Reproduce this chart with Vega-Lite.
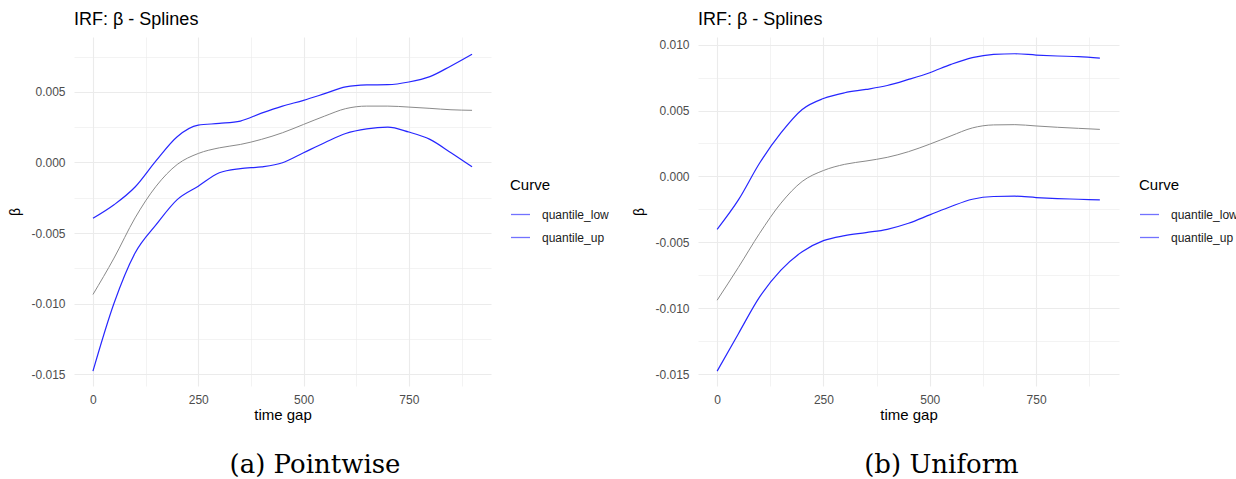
{
  "$schema": "https://vega.github.io/schema/vega-lite/v6.json",
  "background": "white",
  "padding": {"left": 8, "top": 11, "right": 0, "bottom": 0},
  "config": {
    "view": {"stroke": null},
    "font": "Liberation Sans",
    "axis": {"domain": false, "ticks": false, "tickSize": 0, "gridColor": "#ebebeb", "labelColor": "#4d4d4d", "labelFontSize": 12, "labelFont": "Liberation Sans", "titleFont": "Liberation Sans", "titleColor": "#000000", "titleFontWeight": "normal", "labelFlush": false, "labelOverlap": false},
    "legend": {"padding": 0}
  },
  "datasets": {
    "curves": [
      {"panel":"a","curve":"quantile_up","t":0,"beta":-0.00396},
      {"panel":"a","curve":"quantile_up","t":50,"beta":-0.0030},
      {"panel":"a","curve":"quantile_up","t":100,"beta":-0.00174},
      {"panel":"a","curve":"quantile_up","t":150,"beta":0.00013},
      {"panel":"a","curve":"quantile_up","t":200,"beta":0.00183},
      {"panel":"a","curve":"quantile_up","t":250,"beta":0.00265},
      {"panel":"a","curve":"quantile_up","t":300,"beta":0.00277},
      {"panel":"a","curve":"quantile_up","t":350,"beta":0.00294},
      {"panel":"a","curve":"quantile_up","t":400,"beta":0.0035},
      {"panel":"a","curve":"quantile_up","t":450,"beta":0.004},
      {"panel":"a","curve":"quantile_up","t":500,"beta":0.00441},
      {"panel":"a","curve":"quantile_up","t":550,"beta":0.00488},
      {"panel":"a","curve":"quantile_up","t":600,"beta":0.00536},
      {"panel":"a","curve":"quantile_up","t":650,"beta":0.0055},
      {"panel":"a","curve":"quantile_up","t":700,"beta":0.00552},
      {"panel":"a","curve":"quantile_up","t":750,"beta":0.00571},
      {"panel":"a","curve":"quantile_up","t":800,"beta":0.00609},
      {"panel":"a","curve":"quantile_up","t":850,"beta":0.00685},
      {"panel":"a","curve":"quantile_up","t":900,"beta":0.00768},
      {"panel":"a","curve":"estimate","t":0,"beta":-0.00936},
      {"panel":"a","curve":"estimate","t":50,"beta":-0.00678},
      {"panel":"a","curve":"estimate","t":100,"beta":-0.00393},
      {"panel":"a","curve":"estimate","t":150,"beta":-0.00168},
      {"panel":"a","curve":"estimate","t":200,"beta":-0.00014},
      {"panel":"a","curve":"estimate","t":250,"beta":0.00064},
      {"panel":"a","curve":"estimate","t":300,"beta":0.00104},
      {"panel":"a","curve":"estimate","t":350,"beta":0.00128},
      {"panel":"a","curve":"estimate","t":400,"beta":0.00164},
      {"panel":"a","curve":"estimate","t":450,"beta":0.00211},
      {"panel":"a","curve":"estimate","t":500,"beta":0.0027},
      {"panel":"a","curve":"estimate","t":550,"beta":0.00329},
      {"panel":"a","curve":"estimate","t":600,"beta":0.00382},
      {"panel":"a","curve":"estimate","t":650,"beta":0.004},
      {"panel":"a","curve":"estimate","t":700,"beta":0.004},
      {"panel":"a","curve":"estimate","t":750,"beta":0.00393},
      {"panel":"a","curve":"estimate","t":800,"beta":0.00384},
      {"panel":"a","curve":"estimate","t":850,"beta":0.00374},
      {"panel":"a","curve":"estimate","t":900,"beta":0.0037},
      {"panel":"a","curve":"quantile_low","t":0,"beta":-0.01479},
      {"panel":"a","curve":"quantile_low","t":50,"beta":-0.00998},
      {"panel":"a","curve":"quantile_low","t":100,"beta":-0.00642},
      {"panel":"a","curve":"quantile_low","t":150,"beta":-0.00441},
      {"panel":"a","curve":"quantile_low","t":200,"beta":-0.00263},
      {"panel":"a","curve":"quantile_low","t":250,"beta":-0.00168},
      {"panel":"a","curve":"quantile_low","t":300,"beta":-0.00073},
      {"panel":"a","curve":"quantile_low","t":350,"beta":-0.00043},
      {"panel":"a","curve":"quantile_low","t":400,"beta":-0.00031},
      {"panel":"a","curve":"quantile_low","t":450,"beta":-0.00002},
      {"panel":"a","curve":"quantile_low","t":500,"beta":0.00069},
      {"panel":"a","curve":"quantile_low","t":550,"beta":0.0014},
      {"panel":"a","curve":"quantile_low","t":600,"beta":0.00206},
      {"panel":"a","curve":"quantile_low","t":650,"beta":0.00239},
      {"panel":"a","curve":"quantile_low","t":700,"beta":0.00251},
      {"panel":"a","curve":"quantile_low","t":750,"beta":0.00216},
      {"panel":"a","curve":"quantile_low","t":800,"beta":0.00164},
      {"panel":"a","curve":"quantile_low","t":850,"beta":0.00069},
      {"panel":"a","curve":"quantile_low","t":900,"beta":-0.00031},
      {"panel":"b","curve":"quantile_up","t":0,"beta":-0.00401},
      {"panel":"b","curve":"quantile_up","t":50,"beta":-0.00178},
      {"panel":"b","curve":"quantile_up","t":100,"beta":0.00102},
      {"panel":"b","curve":"quantile_up","t":150,"beta":0.0033},
      {"panel":"b","curve":"quantile_up","t":200,"beta":0.00508},
      {"panel":"b","curve":"quantile_up","t":250,"beta":0.00591},
      {"panel":"b","curve":"quantile_up","t":300,"beta":0.00635},
      {"panel":"b","curve":"quantile_up","t":350,"beta":0.0066},
      {"panel":"b","curve":"quantile_up","t":400,"beta":0.0069},
      {"panel":"b","curve":"quantile_up","t":450,"beta":0.00736},
      {"panel":"b","curve":"quantile_up","t":500,"beta":0.00787},
      {"panel":"b","curve":"quantile_up","t":550,"beta":0.0085},
      {"panel":"b","curve":"quantile_up","t":600,"beta":0.00901},
      {"panel":"b","curve":"quantile_up","t":650,"beta":0.00926},
      {"panel":"b","curve":"quantile_up","t":700,"beta":0.00931},
      {"panel":"b","curve":"quantile_up","t":750,"beta":0.00921},
      {"panel":"b","curve":"quantile_up","t":800,"beta":0.00914},
      {"panel":"b","curve":"quantile_up","t":850,"beta":0.00909},
      {"panel":"b","curve":"quantile_up","t":900,"beta":0.00898},
      {"panel":"b","curve":"estimate","t":0,"beta":-0.00939},
      {"panel":"b","curve":"estimate","t":50,"beta":-0.00690},
      {"panel":"b","curve":"estimate","t":100,"beta":-0.00431},
      {"panel":"b","curve":"estimate","t":150,"beta":-0.00203},
      {"panel":"b","curve":"estimate","t":200,"beta":-0.00038},
      {"panel":"b","curve":"estimate","t":250,"beta":0.00045},
      {"panel":"b","curve":"estimate","t":300,"beta":0.00092},
      {"panel":"b","curve":"estimate","t":350,"beta":0.00117},
      {"panel":"b","curve":"estimate","t":400,"beta":0.00145},
      {"panel":"b","curve":"estimate","t":450,"beta":0.00188},
      {"panel":"b","curve":"estimate","t":500,"beta":0.00245},
      {"panel":"b","curve":"estimate","t":550,"beta":0.00308},
      {"panel":"b","curve":"estimate","t":600,"beta":0.00368},
      {"panel":"b","curve":"estimate","t":650,"beta":0.00391},
      {"panel":"b","curve":"estimate","t":700,"beta":0.00393},
      {"panel":"b","curve":"estimate","t":750,"beta":0.00383},
      {"panel":"b","curve":"estimate","t":800,"beta":0.00373},
      {"panel":"b","curve":"estimate","t":850,"beta":0.00365},
      {"panel":"b","curve":"estimate","t":900,"beta":0.00357},
      {"panel":"b","curve":"quantile_low","t":0,"beta":-0.01477},
      {"panel":"b","curve":"quantile_low","t":50,"beta":-0.01193},
      {"panel":"b","curve":"quantile_low","t":100,"beta":-0.00914},
      {"panel":"b","curve":"quantile_low","t":150,"beta":-0.00711},
      {"panel":"b","curve":"quantile_low","t":200,"beta":-0.00571},
      {"panel":"b","curve":"quantile_low","t":250,"beta":-0.00487},
      {"panel":"b","curve":"quantile_low","t":300,"beta":-0.00449},
      {"panel":"b","curve":"quantile_low","t":350,"beta":-0.00426},
      {"panel":"b","curve":"quantile_low","t":400,"beta":-0.00401},
      {"panel":"b","curve":"quantile_low","t":450,"beta":-0.00355},
      {"panel":"b","curve":"quantile_low","t":500,"beta":-0.00292},
      {"panel":"b","curve":"quantile_low","t":550,"beta":-0.00228},
      {"panel":"b","curve":"quantile_low","t":600,"beta":-0.00173},
      {"panel":"b","curve":"quantile_low","t":650,"beta":-0.00152},
      {"panel":"b","curve":"quantile_low","t":700,"beta":-0.0015},
      {"panel":"b","curve":"quantile_low","t":750,"beta":-0.0016},
      {"panel":"b","curve":"quantile_low","t":800,"beta":-0.00168},
      {"panel":"b","curve":"quantile_low","t":850,"beta":-0.00173},
      {"panel":"b","curve":"quantile_low","t":900,"beta":-0.00178}
    ]
  },
  "spacing": 23,
  "resolve": {"scale": {"x": "independent", "y": "independent", "color": "independent"}, "legend": {"color": "independent"}},
  "hconcat": [
    {
      "title": {"text": "(a) Pointwise", "orient": "bottom", "anchor": "middle", "font": "DejaVu Serif", "fontSize": 26, "fontWeight": "normal", "color": "#000000", "offset": 30, "dx": 6},
      "resolve": {"scale": {"color": "independent"}, "legend": {"color": "independent"}},
      "vconcat": [
        {
          "title": {"text": "IRF: β - Splines", "anchor": "start", "frame": "group", "font": "Liberation Sans", "fontSize": 18, "fontWeight": "normal", "color": "#000000", "offset": 8},
          "width": 417,
          "height": 349,
          "data": {"name": "curves"},
          "transform": [{"filter": "datum.panel == 'a'"}],
          "encoding": {
            "x": {"field": "t", "type": "quantitative", "scale": {"domain": [-45, 945], "nice": false, "zero": false},
              "axis": {"title": "time gap", "titleFontSize": 15, "titlePadding": 2, "labelPadding": 8, "values": [0,125,250,375,500,625,750,875],
                "labelExpr": "datum.value % 250 == 0 ? datum.label : ''",
                "gridWidth": {"condition": {"test": "datum.value % 250 == 0", "value": 1.1}, "value": 0.6}}},
            "y": {"field": "beta", "type": "quantitative", "scale": {"domain": [-0.01585, 0.0089], "nice": false, "zero": false},
              "axis": {"title": "β", "titleFontSize": 14, "titlePadding": 8, "labelPadding": 9,
                "values": [-0.015,-0.0125,-0.01,-0.0075,-0.005,-0.0025,0,0.0025,0.005,0.0075],
                "labelExpr": "round(datum.value*2000) % 10 == 0 ? replace(format(datum.value, '.3f'), '\u2212', '-') : ''",
                "gridWidth": {"condition": {"test": "round(datum.value*2000) % 10 == 0", "value": 1.1}, "value": 0.6}}}
          },
          "layer": [
            {
              "transform": [{"filter": "datum.curve != 'estimate'"}],
              "mark": {"type": "line", "interpolate": "monotone", "strokeWidth": 1.2, "opacity": 0.85},
              "encoding": {
                "color": {"field": "curve", "type": "nominal", "scale": {"domain": ["quantile_low", "quantile_up"], "range": ["#0000ff", "#0000ff"]},
                  "legend": {"title": "Curve", "orient": "none", "legendX": 436, "legendY": 141, "symbolType": "stroke", "symbolSize": 361, "symbolStrokeWidth": 1.3, "symbolOpacity": 0.55, "labelFontSize": 12, "labelColor": "#1a1a1a", "titleFontSize": 15, "titleFontWeight": "normal", "titleColor": "#000000", "labelOffset": 11, "rowPadding": 6, "titlePadding": 11, "padding": 0}}
              }
            },
            {
              "transform": [{"filter": "datum.curve == 'estimate'"}],
              "mark": {"type": "line", "interpolate": "monotone", "strokeWidth": 1, "color": "#8a8a8a"},
              "encoding": {}
            }
          ]
        }
      ]
    },
    {
      "title": {"text": "(b) Uniform", "orient": "bottom", "anchor": "middle", "font": "DejaVu Serif", "fontSize": 26, "fontWeight": "normal", "color": "#000000", "offset": 30, "dx": 6},
      "resolve": {"scale": {"color": "independent"}, "legend": {"color": "independent"}},
      "vconcat": [
        {
          "title": {"text": "IRF: β - Splines", "anchor": "start", "frame": "group", "font": "Liberation Sans", "fontSize": 18, "fontWeight": "normal", "color": "#000000", "offset": 8},
          "width": 421,
          "height": 349,
          "data": {"name": "curves"},
          "transform": [{"filter": "datum.panel == 'b'"}],
          "encoding": {
            "x": {"field": "t", "type": "quantitative", "scale": {"domain": [-45, 945], "nice": false, "zero": false},
              "axis": {"title": "time gap", "titleFontSize": 15, "titlePadding": 2, "labelPadding": 8, "values": [0,125,250,375,500,625,750,875],
                "labelExpr": "datum.value % 250 == 0 ? datum.label : ''",
                "gridWidth": {"condition": {"test": "datum.value % 250 == 0", "value": 1.1}, "value": 0.6}}},
            "y": {"field": "beta", "type": "quantitative", "scale": {"domain": [-0.0159, 0.01058], "nice": false, "zero": false},
              "axis": {"title": "β", "titleFontSize": 14, "titlePadding": 8, "labelPadding": 9,
                "values": [-0.015,-0.0125,-0.01,-0.0075,-0.005,-0.0025,0,0.0025,0.005,0.0075,0.01],
                "labelExpr": "round(datum.value*2000) % 10 == 0 ? replace(format(datum.value, '.3f'), '\u2212', '-') : ''",
                "gridWidth": {"condition": {"test": "round(datum.value*2000) % 10 == 0", "value": 1.1}, "value": 0.6}}}
          },
          "layer": [
            {
              "transform": [{"filter": "datum.curve != 'estimate'"}],
              "mark": {"type": "line", "interpolate": "monotone", "strokeWidth": 1.2, "opacity": 0.85},
              "encoding": {
                "color": {"field": "curve", "type": "nominal", "scale": {"domain": ["quantile_low", "quantile_up"], "range": ["#0000ff", "#0000ff"]},
                  "legend": {"title": "Curve", "orient": "none", "legendX": 441, "legendY": 141, "symbolType": "stroke", "symbolSize": 361, "symbolStrokeWidth": 1.3, "symbolOpacity": 0.55, "labelFontSize": 12, "labelColor": "#1a1a1a", "titleFontSize": 15, "titleFontWeight": "normal", "titleColor": "#000000", "labelOffset": 11, "rowPadding": 6, "titlePadding": 11, "padding": 0}}
              }
            },
            {
              "transform": [{"filter": "datum.curve == 'estimate'"}],
              "mark": {"type": "line", "interpolate": "monotone", "strokeWidth": 1, "color": "#8a8a8a"},
              "encoding": {}
            }
          ]
        }
      ]
    }
  ]
}
